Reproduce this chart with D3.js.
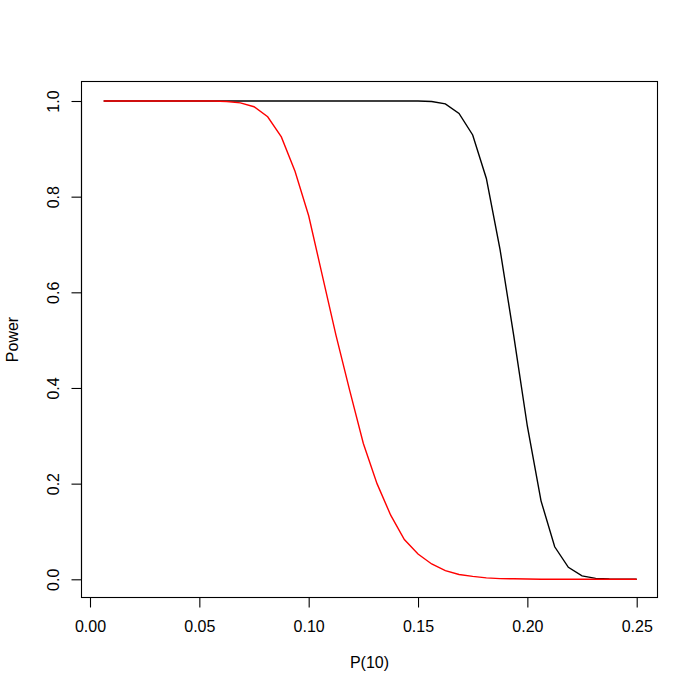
<!DOCTYPE html>
<html>
<head>
<meta charset="utf-8">
<script src="https://cdn.jsdelivr.net/npm/d3@7"></script>
<style>
  body { margin: 0; background: #fff; }
  text { font-family: "Liberation Sans", Arial, sans-serif; }
</style>
</head>
<body>
<div id="chart"></div>
<script>
// P(10) grid
const pValues = [0.00625, 0.0125, 0.01875, 0.025, 0.03125, 0.0375, 0.04375, 0.05,
  0.05625, 0.0625, 0.06875, 0.075, 0.08125, 0.0875, 0.09375, 0.1,
  0.10625, 0.1125, 0.11875, 0.125, 0.13125, 0.1375, 0.14375, 0.15,
  0.15625, 0.1625, 0.16875, 0.175, 0.18125, 0.1875, 0.19375, 0.2,
  0.20625, 0.2125, 0.21875, 0.225, 0.23125, 0.2375, 0.24375, 0.25];

// power curves
const powerBlack = [1, 1, 1, 1, 1, 1, 1, 1,
  1, 1, 1, 1, 1, 1, 1, 1,
  1, 1, 1, 1, 1, 1, 1, 1,
  0.999, 0.994, 0.974, 0.929, 0.838, 0.690, 0.510, 0.320,
  0.164, 0.068, 0.025, 0.007, 0.002, 0.0005, 0, 0];

const powerRed = [1, 1, 1, 1, 1, 1, 1, 1,
  1, 0.999, 0.996, 0.988, 0.967, 0.925, 0.853, 0.760,
  0.635, 0.510, 0.395, 0.284, 0.200, 0.134, 0.083, 0.053,
  0.032, 0.018, 0.010, 0.006, 0.003, 0.0015, 0.001, 0.0005,
  0, 0, 0, 0, 0, 0, 0, 0];

const xTicks = [0, 0.05, 0.10, 0.15, 0.20, 0.25];
const yTicks = [0, 0.2, 0.4, 0.6, 0.8, 1.0];

const W = 700, H = 700;
const box = {left: 81.5, right: 657.5, top: 81.5, bottom: 597.5};

const svg = d3.select("#chart")
    .append("svg")
    .attr("width", W)
    .attr("height", H);

// scales
const x = d3.scaleLinear()
    .domain([0, 0.25])
    .range([90, 636.7]);

const y = d3.scaleLinear()
    .domain([0, 1])
    .range([579.3, 101]);

// plot box
svg.append("rect")
    .attr("x", box.left)
    .attr("y", box.top)
    .attr("width", box.right - box.left)
    .attr("height", box.bottom - box.top)
    .attr("fill", "none")
    .attr("stroke", "#000")
    .attr("stroke-width", 1.1);

// x axis
const xAxis = svg.append("g")
    .attr("transform", `translate(0,${box.bottom})`)
    .call(d3.axisBottom(x).tickValues(xTicks).tickFormat(d3.format(".2f")).tickSize(10).tickPadding(13));
xAxis.select(".domain")
    .attr("d", `M${x(0)},0H${x(0.25)}`);
xAxis.selectAll("text").style("font-size", "16px").attr("fill", "#000");

// y axis
const yAxis = svg.append("g")
    .attr("transform", `translate(${box.left},0)`)
    .call(d3.axisLeft(y).tickValues(yTicks).tickFormat(d3.format(".1f")).tickSize(10));
yAxis.select(".domain")
    .attr("d", `M0,${y(0)}V${y(1)}`);
yAxis.selectAll("text")
    .style("font-size", "16px")
    .attr("fill", "#000")
    .attr("text-anchor", "middle")
    .attr("transform", "rotate(-90)")
    .attr("x", 0)
    .attr("dy", 0)
    .attr("y", -22.5);
// place rotated tick labels at each tick
yAxis.selectAll(".tick text")
    .attr("transform", null)
    .attr("x", null)
    .attr("y", null)
    .attr("transform", "translate(-22.5,0) rotate(-90)");

svg.selectAll(".domain, .tick line").attr("stroke", "#000").attr("stroke-width", 1.1);

// lines
const line = d3.line()
    .x((d, i) => x(pValues[i]))
    .y(d => y(d));

svg.append("path")
    .datum(powerBlack)
    .attr("fill", "none")
    .attr("stroke", "#000")
    .attr("stroke-width", 1.4)
    .attr("d", line);

svg.append("path")
    .datum(powerRed)
    .attr("fill", "none")
    .attr("stroke", "#ff0000")
    .attr("stroke-width", 1.4)
    .attr("d", line);

// axis labels
svg.append("text")
    .attr("x", (box.left + box.right) / 2)
    .attr("y", 668)
    .attr("text-anchor", "middle")
    .style("font-size", "16px")
    .text("P(10)");

svg.append("text")
    .attr("transform", `translate(18,${(box.top + box.bottom) / 2}) rotate(-90)`)
    .attr("text-anchor", "middle")
    .style("font-size", "16px")
    .text("Power");
</script>
</body>
</html>
